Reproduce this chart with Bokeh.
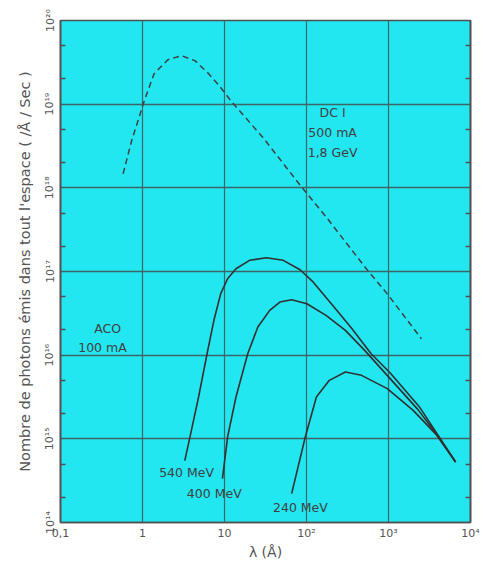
from bokeh.plotting import figure
from bokeh.models import FixedTicker, LogAxis, CustomJSTickFormatter, Label
from bokeh.embed import file_html
from bokeh.resources import INLINE

# ---- data ----
dci_lambda = [0.58, 0.74, 1.04, 1.38, 2.04, 2.99, 4.38, 6.44, 8.59, 12.6, 29.4, 84, 173, 536, 966, 2520]
dci_flux = [1.47e18, 3.7e18, 1.06e19, 2.3e19, 3.4e19, 3.8e19, 3.3e19, 2.3e19, 1.67e19, 1.03e19,
            4.0e18, 1.07e18, 4.5e17, 1.08e17, 5.4e16, 1.57e16]

aco540_lambda = [3.28, 3.79, 4.83, 6.13, 7.43, 8.99, 10.9, 13.8, 20.2, 32.4, 52.0, 83.6, 121, 208, 357,
                 614, 1057, 2404, 3800, 6580]
aco540_flux = [5.5e14, 1.05e15, 3.16e15, 1.04e16, 2.61e16, 5.43e16, 8.2e16, 1.08e17, 1.36e17, 1.46e17,
               1.36e17, 1.05e17, 7.46e16, 3.94e16, 2.08e16, 1.04e16, 6.07e15, 2.38e15, 1.2e15, 5.28e14]

aco400_lambda = [9.44, 10.9, 13.8, 19.2, 25.5, 35.6, 47.3, 65.9, 101, 173, 298, 512, 922, 2275, 3800, 6580]
aco400_flux = [3.34e14, 1.05e15, 3.16e15, 1.04e16, 2.17e16, 3.43e16, 4.31e16, 4.6e16, 4.12e16, 2.99e16,
               1.98e16, 1.14e16, 6.02e15, 2.25e15, 1.16e15, 5.28e14]

aco240_lambda = [65.9, 96.6, 132, 190, 298, 469, 966, 2000, 3800, 6580]
aco240_flux = [2.21e14, 1.05e15, 3.16e15, 5.0e15, 6.28e15, 5.74e15, 3.98e15, 2.19e15, 1.13e15, 5.28e14]

x_major = [0.1, 1, 10, 100, 1000, 10000]
y_major = [1e14, 1e15, 1e16, 1e17, 1e18, 1e19, 1e20]
y_minor = [m * 10.0 ** e for e in range(14, 20) for m in (2, 5)]

BG = "#22E6F0"
GRID = "#3d6466"
FONT = "DejaVu Sans"

p = figure(width=484, height=574, x_axis_type="log", y_axis_type="log",
           x_range=(0.1, 1e4), y_range=(1e14, 1e20),
           output_backend="svg", toolbar_location=None,
           min_border_left=60, min_border_right=14, min_border_top=20, min_border_bottom=52,
           background_fill_color=BG, border_fill_color="white")

p.outline_line_color = "#505050"
p.outline_line_width = 1.6

fmt_code = """
const sup = {"0":"\u2070","1":"\u00b9","2":"\u00b2","3":"\u00b3","4":"\u2074","5":"\u2075","6":"\u2076","7":"\u2077","8":"\u2078","9":"\u2079","-":"\u207b"};
const e = Math.round(Math.log10(tick));
if (e == -1) return "0,1";
if (e == 0) return "1";
if (e == 1) return "10";
return "10" + String(e).split("").map(c => sup[c]).join("");
"""

xt = FixedTicker(ticks=x_major, minor_ticks=[])
yt = FixedTicker(ticks=y_major, minor_ticks=y_minor)

xa = p.xaxis[0]
xa.ticker = xt
xa.formatter = CustomJSTickFormatter(code=fmt_code)
xa.axis_label = "\u03bb (\u00c5)"
ya = p.yaxis[0]
ya.ticker = yt
ya.formatter = CustomJSTickFormatter(code=fmt_code)
ya.axis_label = "Nombre de photons \u00e9mis dans tout l'espace ( /\u00c5 / Sec )"
ya.major_label_orientation = "vertical"

for ax in (xa, ya):
    ax.axis_line_color = "#505050"
    ax.axis_line_width = 1.6
    ax.major_tick_in = 0
    ax.major_tick_out = 0
    ax.minor_tick_in = 5
    ax.minor_tick_out = 0
    ax.minor_tick_line_color = "#505050"
    ax.minor_tick_line_width = 1.3
    ax.major_label_text_font = FONT
    ax.major_label_text_font_size = "11px"
    ax.major_label_text_color = "#555555"
    ax.major_label_standoff = 4
    ax.axis_label_text_font = FONT
    ax.axis_label_text_font_style = "normal"
    ax.axis_label_text_color = "#555555"
xa.axis_label_text_font_size = "14px"
xa.axis_label_standoff = 1
ya.axis_label_text_font_size = "14.5px"
ya.axis_label_standoff = 8

ra = LogAxis(ticker=yt, formatter=CustomJSTickFormatter(code=fmt_code),
             major_label_text_font_size="2px", major_label_text_color=None,
             axis_line_color="#505050",
             axis_line_width=1.6, major_tick_in=0, major_tick_out=0,
             minor_tick_in=5, minor_tick_out=0, minor_tick_line_color="#505050",
             minor_tick_line_width=1.3, major_label_standoff=0)
p.add_layout(ra, "right")

p.xgrid.ticker = xt
p.ygrid.ticker = yt
p.xgrid.grid_line_color = GRID
p.xgrid.grid_line_width = 1.2
p.ygrid.grid_line_color = GRID
p.ygrid.grid_line_width = 1.7

p.line(dci_lambda, dci_flux, line_color="#404040", line_width=1.5, line_dash="6 4")
p.line(aco540_lambda, aco540_flux, line_color="#303030", line_width=1.6)
p.line(aco400_lambda, aco400_flux, line_color="#303030", line_width=1.6)
p.line(aco240_lambda, aco240_flux, line_color="#303030", line_width=1.6)

def lab(x, y, t):
    p.add_layout(Label(x=x, y=y, text=t, text_align="center", text_baseline="middle",
                       text_font=FONT, text_font_size="12.5px", text_color="#404040"))

lab(208, 7.96e18, "DC I")
lab(208, 4.59e18, "500 mA")
lab(208, 2.65e18, "1,8 GeV")
lab(0.376, 2.09e16, "ACO")
lab(0.325, 1.24e16, "100 mA")
lab(3.45, 3.98e14, "540 MeV")
lab(7.5, 2.23e14, "400 MeV")
lab(84.3, 1.52e14, "240 MeV")

open("out.html", "w").write(file_html(p, INLINE))
